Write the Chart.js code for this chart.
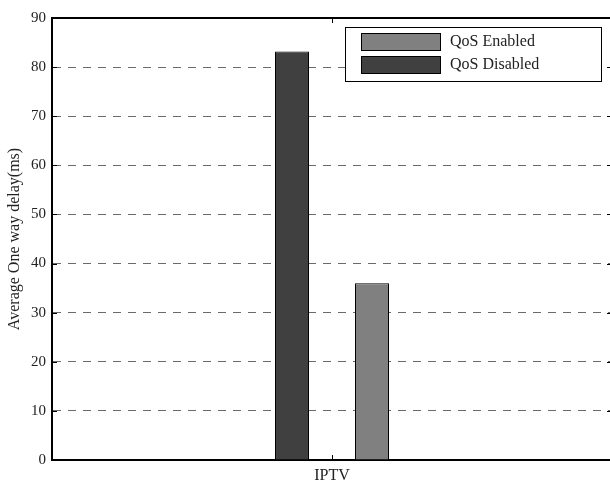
<!DOCTYPE html>
<html>
<head>
<meta charset="utf-8">
<script src="https://cdn.jsdelivr.net/npm/chart.js@4/dist/chart.umd.min.js"></script>
<style>
  html, body { margin: 0; padding: 0; overflow: hidden; background: #fff; }
  canvas { display: block; }
</style>
</head>
<body>
<canvas id="chart" width="612" height="481"></canvas>
<script>
// Average one-way delay for IPTV traffic, with and without QoS
const categories = ['IPTV'];
const seriesNames = ['QoS Disabled', 'QoS Enabled'];
const qosDisabled = [83.2];
const qosEnabled = [36.0];
const yTickValues = [0, 10, 20, 30, 40, 50, 60, 70, 80, 90];
const yTitle = 'Average One way delay(ms)';

const SERIF = "'Liberation Serif', 'DejaVu Serif', serif";

// Axis frame (top edge) plus inward-pointing tick marks on all four sides
const framePlugin = {
  id: 'frame',
  afterDatasetsDraw(chart) {
    const { ctx, chartArea: a, scales } = chart;
    ctx.save();
    ctx.strokeStyle = '#000';
    ctx.lineWidth = 2;
    ctx.beginPath();
    ctx.moveTo(a.left - 1, a.top);
    ctx.lineTo(a.right, a.top);
    ctx.moveTo(a.right, a.top);
    ctx.lineTo(a.right, a.bottom);
    ctx.stroke();

    ctx.lineWidth = 1;
    ctx.beginPath();
    scales.y.ticks.forEach(t => {
      const y = Math.round(scales.y.getPixelForValue(t.value)) + 0.5;
      ctx.moveTo(a.left, y); ctx.lineTo(a.left + 5, y);
      ctx.moveTo(a.right - 5, y); ctx.lineTo(a.right, y);
    });
    categories.forEach((c, i) => {
      const x = Math.round(scales.x.getPixelForValue(i)) + 0.5;
      ctx.moveTo(x, a.bottom); ctx.lineTo(x, a.bottom - 5);
      ctx.moveTo(x, a.top); ctx.lineTo(x, a.top + 5);
    });
    ctx.stroke();
    ctx.restore();
  }
};

// Boxed legend in the upper right of the plot, entries listed in reverse dataset order
const boxLegendPlugin = {
  id: 'boxLegend',
  afterDraw(chart) {
    const { ctx, chartArea: a } = chart;
    const items = chart.data.datasets.slice().reverse();
    const boxX = a.right - 267, boxY = a.top + 9, boxW = 256, boxH = 54;
    ctx.save();
    ctx.fillStyle = '#fff';
    ctx.fillRect(boxX, boxY, boxW, boxH);
    ctx.strokeStyle = '#000';
    ctx.lineWidth = 1;
    ctx.strokeRect(boxX + 0.5, boxY + 0.5, boxW, boxH);
    ctx.font = '16px ' + SERIF;
    ctx.textBaseline = 'middle';
    items.forEach((ds, i) => {
      const sy = boxY + 6 + i * 23;
      ctx.fillStyle = ds.backgroundColor;
      ctx.fillRect(boxX + 16, sy, 79, 17);
      ctx.strokeStyle = '#000';
      ctx.strokeRect(boxX + 16.5, sy + 0.5, 79, 17);
      ctx.fillStyle = '#222';
      ctx.fillText(ds.label, boxX + 105, sy + 9);
    });
    ctx.restore();
  }
};

new Chart(document.getElementById('chart'), {
  type: 'bar',
  data: {
    labels: categories,
    datasets: [
      {
        label: seriesNames[0],
        data: qosDisabled,
        backgroundColor: '#404040',
        borderColor: '#000',
        borderWidth: 1,
        categoryPercentage: 0.2857,
        barPercentage: 0.425
      },
      {
        label: seriesNames[1],
        data: qosEnabled,
        backgroundColor: '#808080',
        borderColor: '#000',
        borderWidth: 1,
        categoryPercentage: 0.2857,
        barPercentage: 0.425
      }
    ]
  },
  options: {
    responsive: false,
    devicePixelRatio: 1,
    animation: false,
    layout: { padding: { top: 18, left: 0, right: 0, bottom: 0 } },
    plugins: {
      legend: { display: false },
      tooltip: { enabled: false },
      title: { display: false }
    },
    scales: {
      x: {
        afterFit(scale) { scale.height = 21; },
        grid: { display: false, drawTicks: false },
        border: { display: true, color: '#000', width: 2 },
        ticks: {
          padding: 6,
          color: '#222',
          font: { family: SERIF, size: 16 }
        }
      },
      y: {
        min: 0,
        max: 90,
        afterFit(scale) { scale.width = 52; },
        afterBuildTicks(scale) {
          scale.ticks = yTickValues.map(v => ({ value: v }));
        },
        grid: {
          drawTicks: false,
          lineWidth: 1,
          color: ctx => (ctx.tick && (ctx.tick.value === 0 || ctx.tick.value === 90)) ? 'rgba(0,0,0,0)' : '#6a6a6a'
        },
        border: { display: true, color: '#000', width: 2, dash: [8, 7] },
        ticks: {
          padding: 6,
          color: '#222',
          font: { family: SERIF, size: 15 }
        },
        title: {
          display: true,
          text: yTitle,
          color: '#222',
          padding: { top: 5, bottom: 0 },
          font: { family: SERIF, size: 16 }
        }
      }
    }
  },
  plugins: [framePlugin, boxLegendPlugin]
});
</script>
</body>
</html>
